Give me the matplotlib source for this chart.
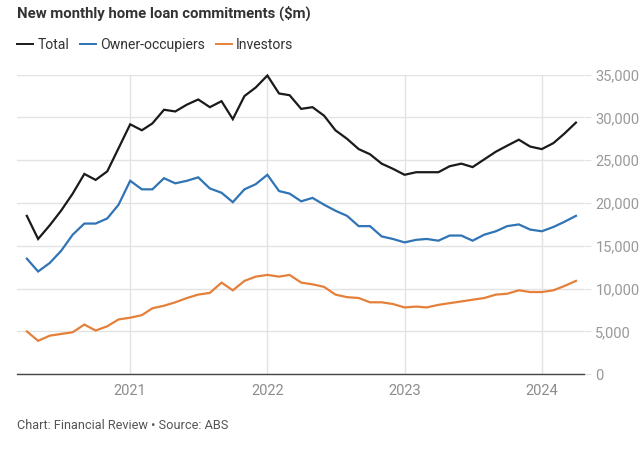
import matplotlib
matplotlib.use("Agg")
import matplotlib.pyplot as plt
import matplotlib.dates as mdates
import matplotlib.ticker as mticker
import pandas as pd

# monthly, Apr 2020 - Apr 2024 ($m)
months = pd.date_range("2020-04-01", periods=49, freq="MS")

total = [18.5, 15.8, 17.4, 19.1, 21.1, 23.4, 22.7, 23.7, 26.4,
         29.2, 28.5, 29.3, 30.9, 30.7, 31.5, 32.1, 31.2, 31.9, 29.8, 32.5, 33.5,
         34.9, 32.8, 32.6, 31.0, 31.2, 30.2, 28.5, 27.5, 26.3, 25.7, 24.6, 24.0,
         23.3, 23.6, 23.6, 23.6, 24.3, 24.6, 24.2, 25.1, 26.0, 26.7, 27.4, 26.6,
         26.3, 27.0, 28.1, 29.4]
owner = [13.5, 12.0, 13.0, 14.4, 16.3, 17.6, 17.6, 18.2, 19.8,
         22.6, 21.6, 21.6, 22.9, 22.3, 22.6, 23.0, 21.7, 21.2, 20.1, 21.6, 22.2,
         23.3, 21.4, 21.1, 20.2, 20.6, 19.8, 19.1, 18.5, 17.3, 17.3, 16.1, 15.8,
         15.4, 15.7, 15.8, 15.6, 16.2, 16.2, 15.6, 16.3, 16.7, 17.3, 17.5, 16.9,
         16.7, 17.2, 17.8, 18.5]
investors = [5.0, 3.9, 4.5, 4.7, 4.9, 5.8, 5.1, 5.6, 6.4,
             6.6, 6.9, 7.7, 8.0, 8.4, 8.9, 9.3, 9.5, 10.7, 9.8, 10.9, 11.4,
             11.6, 11.4, 11.6, 10.7, 10.5, 10.2, 9.3, 9.0, 8.9, 8.4, 8.4, 8.2,
             7.8, 7.9, 7.8, 8.1, 8.3, 8.5, 8.7, 8.9, 9.3, 9.4, 9.8, 9.6,
             9.6, 9.8, 10.3, 10.9]

series = [("Total", total, "#1a1a1a"),
          ("Owner-occupiers", owner, "#2f74b5"),
          ("Investors", investors, "#e5803a")]

yticks = [0, 5000, 10000, 15000, 20000, 25000, 30000, 35000]
year_ticks = pd.to_datetime(["2021-01-01", "2022-01-01", "2023-01-01", "2024-01-01"])

plt.rcParams["font.family"] = ["Roboto", "DejaVu Sans"]

fig = plt.figure(figsize=(6.42, 4.58), dpi=100)
ax = fig.add_axes([0.026, 0.183, 0.884, 0.654])

for name, vals, col in series:
    ax.plot(months, [v * 1000 for v in vals], color=col, lw=1.6, label=name,
            solid_joinstyle="miter", clip_on=False, zorder=3)

ax.set_xlim(pd.Timestamp("2020-03-05"), pd.Timestamp("2024-04-23"))
ax.set_ylim(0, 35000)

ax.set_yticks(yticks)
ax.yaxis.tick_right()
ax.yaxis.set_major_formatter(mticker.FuncFormatter(lambda v, p: f"{int(v):,}"))
ax.set_xticks(year_ticks)
ax.xaxis.set_major_formatter(mdates.DateFormatter("%Y"))

ax.grid(True, color="#e3e3e3", lw=1)
ax.set_axisbelow(True)
for s in ["top", "left", "right"]:
    ax.spines[s].set_visible(False)
ax.spines["bottom"].set_color("#444444")
ax.spines["bottom"].set_linewidth(1)

ax.tick_params(axis="y", length=5, color="#e3e3e3", pad=3, labelsize=10.5,
               labelcolor="#999999")
ax.tick_params(axis="x", length=0, pad=7, labelsize=10.5, labelcolor="#8c8c8c")

fig.text(0.026, 0.97, "New monthly home loan commitments ($m)", fontsize=10.7,
         fontweight="bold", color="#333333", va="center")

leg = ax.legend(loc="lower left", bbox_to_anchor=(0.027, 0.886), bbox_transform=fig.transFigure,
                ncol=3, frameon=False, fontsize=10.1, handlelength=1.15, handletextpad=0.3,
                columnspacing=0.75, borderpad=0, borderaxespad=0)
for t in leg.get_texts():
    t.set_color("#333333")
for h in leg.get_lines():
    h.set_linewidth(1.4)

fig.text(0.026, 0.072, "Chart: Financial Review \u2022 Source: ABS", fontsize=9.2,
         color="#555555", va="center")

fig.savefig("out.png", dpi=100)
